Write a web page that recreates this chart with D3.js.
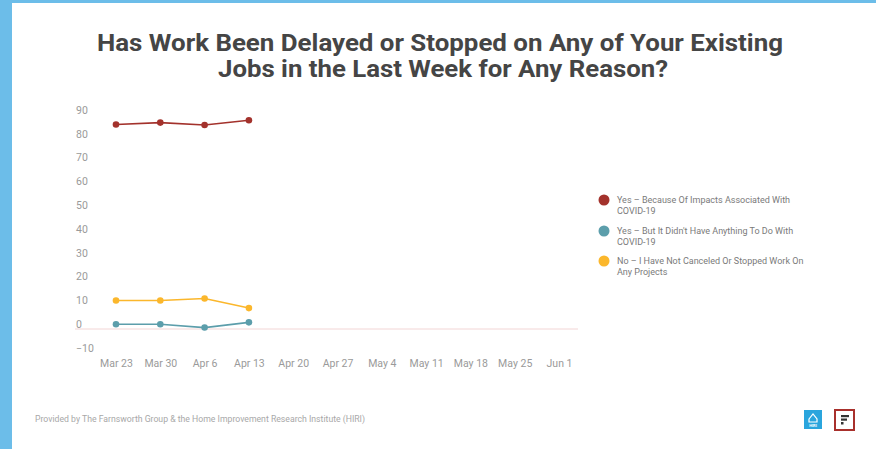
<!DOCTYPE html>
<html>
<head>
<meta charset="utf-8">
<script src="https://cdn.jsdelivr.net/npm/d3@7"></script>
<style>
  body { margin: 0; background: #fff; }
  svg { display: block; font-family: Roboto, "Noto Sans", sans-serif; }
</style>
</head>
<body>
<svg width="876" height="449"></svg>
<script>
// weeks shown on the x axis
var weeks = ["Mar 23", "Mar 30", "Apr 6", "Apr 13", "Apr 20", "Apr 27", "May 4", "May 11", "May 18", "May 25", "Jun 1"];
var yTicks = [-10, 0, 10, 20, 30, 40, 50, 60, 70, 80, 90];

var seriesNames = [
  ["Yes \u2013 Because Of Impacts Associated With", "COVID-19"],
  ["Yes \u2013 But It Didn't Have Anything To Do With", "COVID-19"],
  ["No \u2013 I Have Not Canceled Or Stopped Work On", "Any Projects"]
];
var seriesColors = ["#a3322c", "#5c9eab", "#fbb72c"];
// only the first four weeks have answers
var yesCovid = [86, 86.8, 85.8, 87.8];
var yesOther = [2, 2, 0.6, 2.8];
var noStop = [12, 12, 12.8, 8.8];
var seriesValues = [yesCovid, yesOther, noStop];

var svg = d3.select("svg");

// blue frame
svg.append("rect").attr("x", 0).attr("y", 0).attr("width", 876).attr("height", 3).attr("fill", "#6cbde9");
svg.append("rect").attr("x", 0).attr("y", 0).attr("width", 12).attr("height", 449).attr("fill", "#6cbde9");

// title
var title = svg.append("g").attr("fill", "#454545").attr("font-weight", "bold").attr("font-size", 24);
title.append("text").attr("x", 97).attr("y", 51)
  .attr("textLength", 686).attr("lengthAdjust", "spacingAndGlyphs")
  .text("Has Work Been Delayed or Stopped on Any of Your Existing");
title.append("text").attr("x", 218).attr("y", 77)
  .attr("textLength", 450).attr("lengthAdjust", "spacingAndGlyphs")
  .text("Jobs in the Last Week for Any Reason?");

var x = d3.scalePoint().domain(weeks).range([116, 559]);
var y = d3.scaleLinear().domain([0, 90]).range([329, 115]);

// y labels (sit a little above their value)
var yAxis = svg.append("g").attr("transform", "translate(76,0)")
  .call(d3.axisLeft(y).tickValues(yTicks).tickSize(0).tickFormat(d3.format("d")));
yAxis.select(".domain").remove();
yAxis.selectAll("text")
  .attr("x", 0).attr("dy", "-0.15em")
  .attr("text-anchor", "start")
  .attr("fill", "#9a9a9a").attr("font-size", 10.5).attr("font-family", "Roboto, sans-serif");

// zero line
svg.append("line")
  .attr("x1", 75).attr("x2", 578)
  .attr("y1", y(0)).attr("y2", y(0))
  .attr("stroke", "#f2d5d5").attr("stroke-width", 1);

// x labels
var xAxis = svg.append("g").attr("transform", "translate(0,357)")
  .call(d3.axisBottom(x).tickSize(0));
xAxis.select(".domain").remove();
xAxis.selectAll("text")
  .attr("fill", "#9a9a9a").attr("font-size", 10.5).attr("font-family", "Roboto, sans-serif");

var line = d3.line()
  .x(function(d, i) { return x(weeks[i]); })
  .y(function(d) { return y(d); });

seriesValues.forEach(function(vals, s) {
  var g = svg.append("g");
  g.append("path").datum(vals)
    .attr("d", line)
    .attr("fill", "none")
    .attr("stroke", seriesColors[s])
    .attr("stroke-width", 1.6);
  g.selectAll("circle").data(vals).enter().append("circle")
    .attr("cx", function(d, i) { return x(weeks[i]); })
    .attr("cy", function(d) { return y(d); })
    .attr("r", 3.3)
    .attr("fill", seriesColors[s]);
});

// legend
var legendY = [200, 231, 261];
seriesNames.forEach(function(lines, s) {
  var lg = svg.append("g").attr("transform", "translate(604," + legendY[s] + ")");
  lg.append("circle").attr("r", 5.5).attr("fill", seriesColors[s]);
  lines.forEach(function(t, k) {
    lg.append("text").attr("x", 13).attr("y", k * 11).attr("dy", "0.35em")
      .attr("fill", "#7a7a7a").attr("font-size", 9).text(t);
  });
});

// footer
svg.append("text").attr("x", 35).attr("y", 422)
  .attr("fill", "#a8a8a8").attr("font-size", 8.5)
  .attr("textLength", 330).attr("lengthAdjust", "spacingAndGlyphs")
  .text("Provided by The Farnsworth Group & the Home Improvement Research Institute (HIRI)");

// logos
var hiri = svg.append("g").attr("transform", "translate(804,410)");
hiri.append("rect").attr("width", 18).attr("height", 19).attr("fill", "#2aa5dd");
hiri.append("path").attr("d", "M5,9 L9,4 L13,9 L13,12 L5,12 Z").attr("fill", "none").attr("stroke", "#fff").attr("stroke-width", 1.2);
hiri.append("text").attr("x", 9).attr("y", 17).attr("text-anchor", "middle")
  .attr("fill", "#fff").attr("font-size", 4).attr("font-weight", "bold").text("HIRI");

var fg = svg.append("g").attr("transform", "translate(834,409)");
fg.append("rect").attr("x", 1).attr("y", 1).attr("width", 19).attr("height", 20)
  .attr("fill", "#fff").attr("stroke", "#a8302c").attr("stroke-width", 2);
fg.append("rect").attr("x", 7).attr("y", 6).attr("width", 8).attr("height", 2.2).attr("fill", "#333");
fg.append("rect").attr("x", 7).attr("y", 9.5).attr("width", 6).attr("height", 2.2).attr("fill", "#333");
fg.append("rect").attr("x", 7).attr("y", 13).attr("width", 2.5).attr("height", 2.5).attr("fill", "#333");
</script>
</body>
</html>
